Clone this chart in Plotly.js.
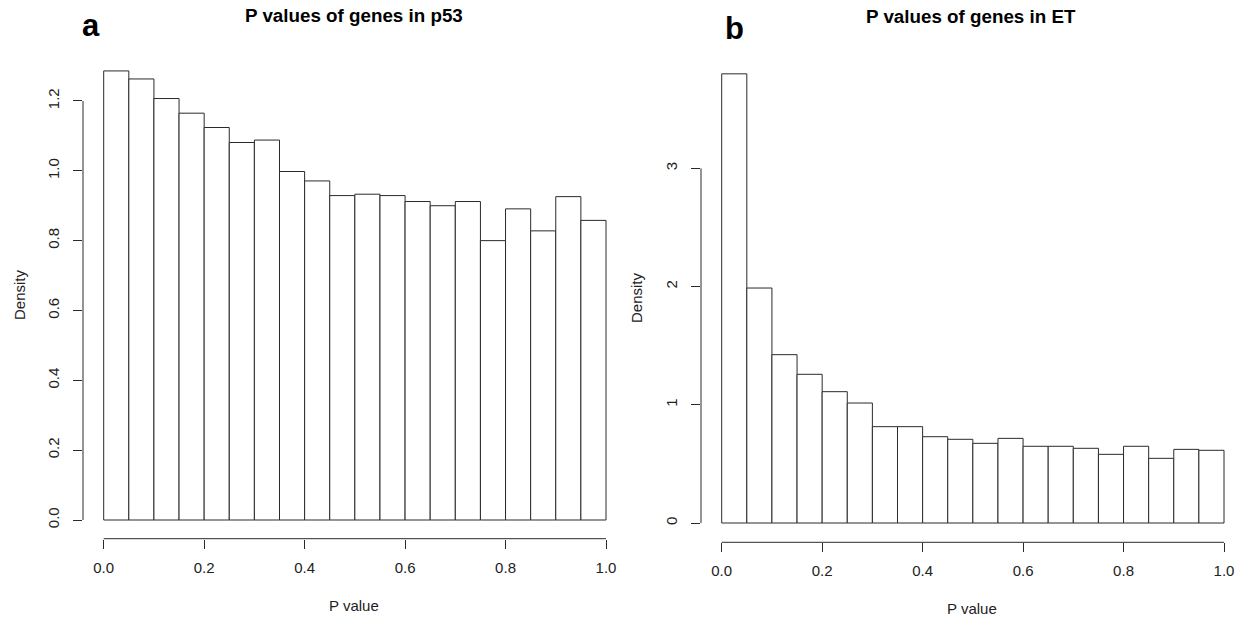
<!DOCTYPE html>
<html>
<head>
<meta charset="utf-8">
<script src="https://cdn.plot.ly/plotly-3.0.1.min.js"></script>
<style>
  html, body { margin: 0; padding: 0; background: #fff; }
  #chart { width: 1244px; height: 619px; }
</style>
</head>
<body>
<div id="chart"></div>
<script>
// ---- data ----
var binEdges = [0, 0.05, 0.10, 0.15, 0.20, 0.25, 0.30, 0.35, 0.40, 0.45, 0.50,
                0.55, 0.60, 0.65, 0.70, 0.75, 0.80, 0.85, 0.90, 0.95, 1.00];
var densityP53 = [1.286, 1.263, 1.207, 1.165, 1.124, 1.081, 1.088, 0.998, 0.971, 0.929,
                  0.933, 0.929, 0.912, 0.900, 0.912, 0.800, 0.891, 0.828, 0.926, 0.858];
var densityET  = [3.80, 1.988, 1.424, 1.258, 1.111, 1.015, 0.815, 0.815, 0.730, 0.708,
                  0.674, 0.716, 0.649, 0.649, 0.632, 0.581, 0.649, 0.547, 0.623, 0.615];
var xTicks = [0, 0.2, 0.4, 0.6, 0.8, 1.0];
var yTicksP53 = [0, 0.2, 0.4, 0.6, 0.8, 1.0, 1.2];
var yTicksET = [0, 1, 2, 3];
var titleP53 = "P values of genes in p53";
var titleET = "P values of genes in ET";
var xLabel = "P value";
var yLabel = "Density";

// ---- layout geometry (pixels) ----
var W = 1244, H = 619;
function px(x) { return x / W; }
function py(y) { return 1 - y / H; }

var centers = [], widths = [];
for (var i = 0; i < binEdges.length - 1; i++) {
  centers.push((binEdges[i] + binEdges[i + 1]) / 2);
  widths.push(binEdges[i + 1] - binEdges[i]);
}

// panel geometry: pixel of data 0 / 1 on x, pixel of y=0 and px per unit on y
var P = [
  {x0: 103.7, x1: 606, left: 83, right: 640, base: 520, unit: 349.2, bottom: 538.7, top: 55},
  {x0: 721.7, x1: 1224, left: 701, right: 1240, base: 523, unit: 118.2, bottom: 542.3, top: 55}
];
function xr(p) {
  var s = p.x1 - p.x0;
  return [(p.left - p.x0) / s, (p.right - p.x0) / s];
}
function yr(p) {
  return [-(p.bottom - p.base) / p.unit, (p.base - p.top) / p.unit];
}

var lineCol = '#2a2a2a';
var tickFont = {family: 'Liberation Sans, Arial, sans-serif', size: 15, color: '#222'};
var labFont = {family: 'Liberation Sans, Arial, sans-serif', size: 15, color: '#222'};
var titleFont = {family: 'Liberation Sans, Arial, sans-serif', size: 18.8, color: '#000'};
var letterFont = {family: 'Liberation Sans, Arial, sans-serif', size: 31, color: '#000'};

var traces = [
  {type: 'bar', x: centers, y: densityP53, width: widths, xaxis: 'x', yaxis: 'y',
   marker: {color: '#ffffff', line: {color: lineCol, width: 1}}, hoverinfo: 'skip'},
  {type: 'bar', x: centers, y: densityET, width: widths, xaxis: 'x2', yaxis: 'y2',
   marker: {color: '#ffffff', line: {color: lineCol, width: 1}}, hoverinfo: 'skip'}
];

function xAxis(p, anchor) {
  return {domain: [px(p.left), px(p.right)], range: xr(p), anchor: anchor,
    tickmode: 'array', tickvals: xTicks, tickformat: '.1f',
    ticks: 'outside', ticklen: 9, tickwidth: 1, tickcolor: lineCol,
    showline: false, showgrid: false, zeroline: false,
    tickfont: tickFont, ticklabelstandoff: 6, fixedrange: true};
}
function yAxis(p, anchor, vals, fmt) {
  return {domain: [py(p.bottom), py(p.top)], range: yr(p), anchor: anchor,
    tickmode: 'array', tickvals: vals, tickformat: fmt, tickangle: -90,
    ticks: 'outside', ticklen: 9, tickwidth: 1, tickcolor: lineCol,
    showline: false, showgrid: false, zeroline: false,
    tickfont: tickFont, ticklabelstandoff: 8, fixedrange: true};
}

var shapes = [
  {type: 'line', xref: 'x', yref: 'paper', x0: xTicks[0], x1: xTicks[xTicks.length - 1],
   y0: py(P[0].bottom), y1: py(P[0].bottom), line: {color: lineCol, width: 1}},
  {type: 'line', xref: 'paper', yref: 'y', x0: px(P[0].left), x1: px(P[0].left),
   y0: yTicksP53[0], y1: yTicksP53[yTicksP53.length - 1], line: {color: lineCol, width: 1}},
  {type: 'line', xref: 'x2', yref: 'paper', x0: xTicks[0], x1: xTicks[xTicks.length - 1],
   y0: py(P[1].bottom), y1: py(P[1].bottom), line: {color: lineCol, width: 1}},
  {type: 'line', xref: 'paper', yref: 'y2', x0: px(P[1].left), x1: px(P[1].left),
   y0: yTicksET[0], y1: yTicksET[yTicksET.length - 1], line: {color: lineCol, width: 1}}
];

function ann(text, x, y, font, angle) {
  return {text: text, x: px(x), y: py(y), xref: 'paper', yref: 'paper',
    xanchor: 'center', yanchor: 'middle', showarrow: false, font: font,
    textangle: angle || 0};
}
var annotations = [
  ann('<b>' + titleP53 + '</b>', 354, 15.5, titleFont),
  ann('<b>' + titleET + '</b>', 971, 17, titleFont),
  ann('<b>a</b>', 91, 26, letterFont),
  ann('<b>b</b>', 734, 28, letterFont),
  ann(xLabel, 354, 605, labFont),
  ann(xLabel, 972, 608, labFont),
  ann(yLabel, 19, 295, labFont, -90),
  ann(yLabel, 637, 298, labFont, -90)
];

var layout = {
  width: W, height: H,
  margin: {l: 0, r: 0, t: 0, b: 0, pad: 0},
  paper_bgcolor: '#ffffff', plot_bgcolor: '#ffffff',
  showlegend: false, hovermode: false,
  xaxis: xAxis(P[0], 'y'),
  yaxis: yAxis(P[0], 'x', yTicksP53, '.1f'),
  xaxis2: xAxis(P[1], 'y2'),
  yaxis2: yAxis(P[1], 'x2', yTicksET, 'd'),
  shapes: shapes,
  annotations: annotations
};

Plotly.newPlot('chart', traces, layout, {staticPlot: true, displayModeBar: false});
</script>
</body>
</html>
